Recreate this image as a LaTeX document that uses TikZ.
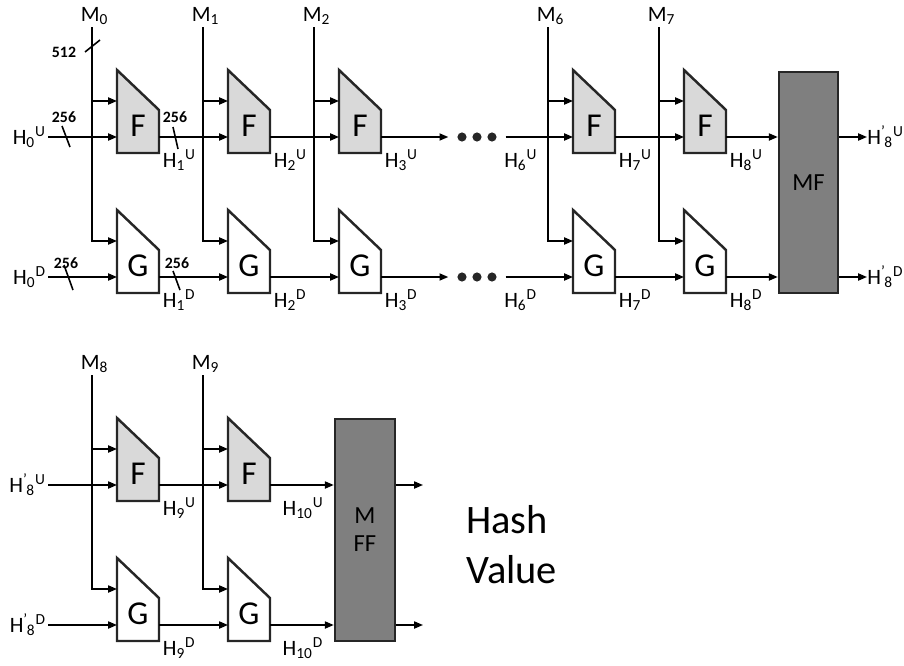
\documentclass[tikz,border=0pt]{standalone}
\usepackage{fontspec}
\setmainfont{Carlito}
\usetikzlibrary{arrows.meta,positioning}

\definecolor{fgray}{HTML}{D9D9D9}
\definecolor{mgray}{HTML}{7F7F7F}
\definecolor{edge}{HTML}{262626}

% H с индексами: H_i^U, H'_i^U
\newcommand{\hh}[2]{H\textsubscript{#1}\textsuperscript{#2}}
\newcommand{\hpr}[2]{H\textsuperscript{\textquoteright}\kern-0.06em\textsubscript{#1}\textsuperscript{#2}}
% блок-трапеция: имя, левый x, верхний y, заливка, буква
\newcommand{\blk}[5]{%
  \filldraw[blkline, fill=#4] (#2,#3) -- ++(42,40) -- ++(0,43) -- ++(-42,0) -- cycle;
  \node[blklbl] (#1) at (#2+21,#3+56) {#5};
  \coordinate (#1-m) at (#2,#3+31);
  \coordinate (#1-h) at (#2,#3+67);
  \coordinate (#1-o) at (#2+42,#3+67);
}

\begin{document}
\begin{tikzpicture}[x=0.02cm, y=-0.02cm,
		wire/.style={line width=0.9pt},
		arr/.style={wire, -{Triangle[length=5pt,width=4pt]}},
		blkline/.style={line width=1.4pt, draw=edge},
		blklbl/.style={font=\fontsize{19}{21}\selectfont, inner sep=0pt},
		mlbl/.style={font=\fontsize{12.5}{14}\selectfont, inner sep=1pt},
		hlbl/.style={font=\fontsize{12.5}{14}\selectfont, inner sep=1pt},
		wlbl/.style={font=\fontsize{9}{10}\selectfont\bfseries, inner sep=0pt},
		dot/.style={circle, fill=black!85, inner sep=0pt, minimum size=5.2pt},
		mfbox/.style={draw=edge, line width=1.4pt, fill=mgray, inner sep=0pt, align=center}]
		\useasboundingbox (0,0) rectangle (904,666);
		% верхняя цепочка
		\foreach \i/\x/\j in {0/92/1,1/203/2,2/314/3,6/548/7,7/659/8}{
			\blk{f\i}{\x+25}{70}{fgray}{F}
			\blk{g\i}{\x+25}{210}{white}{G}
			\coordinate (t\i) at (\x,27);
			\node[mlbl, above=0pt of t\i, xshift=1.5pt] (m\i) {M\textsubscript{\i}};
			\draw[arr] (t\i) |- (g\i-m);
			\draw[arr] (t\i |- f\i-m) -- (f\i-m);
			\node[hlbl, below right=6pt and 1pt of f\i-o] (hu\j) {\hh{\j}{U}};
			\node[hlbl, below right=6pt and 1pt of g\i-o] (hd\j) {\hh{\j}{D}};
		}
		\foreach \a/\b in {0/1,1/2,6/7}{
			\draw[arr] (f\a-o) -- (f\b-h);
			\draw[arr] (g\a-o) -- (g\b-h);
		}
		\foreach \k/\x in {1/462,2/477,3/492}{
			\node[dot] (du\k) at (\x,137) {};
			\node[dot] (dd\k) at (\x,277) {};
		}
		\draw[arr] (f2-o) -- ([xshift=-5pt]du1.west);
		\draw[arr] (g2-o) -- ([xshift=-5pt]dd1.west);
		\draw[arr] ([xshift=5pt]du3.east) -- (f6-h);
		\draw[arr] ([xshift=5pt]dd3.east) -- (g6-h);
		\node[hlbl, below right=6pt and 3pt of du3.east] (hu6) {\hh{6}{U}};
		\node[hlbl, below right=6pt and 3pt of dd3.east] (hd6) {\hh{6}{D}};
		\node[hlbl, anchor=east] (hu0) at (48,137) {\hh{0}{U}};
		\node[hlbl, anchor=east] (hd0) at (48,277) {\hh{0}{D}};
		\draw[arr] (hu0) -- (f0-h);
		\draw[arr] (hd0) -- (g0-h);
		% разрядности шин
		\draw[wire] (62,126) -- (70,147);
		\node[wlbl] (w1) at (64,117) {256};
		\draw[wire] (173,127) -- (178,149);
		\node[wlbl] (w2) at (175,117) {256};
		\draw[wire] (64,265) -- (73,290);
		\node[wlbl] (w3) at (66,263) {256};
		\draw[wire] (173,271) -- (180,290);
		\node[wlbl] (w4) at (177,263) {256};
		\draw[wire] (85,52) -- (100,40);
		\node[wlbl] (w5) at (64,52) {512};
		% MF
		\node[mfbox, minimum width=1.18cm, minimum height=4.42cm,
			font=\fontsize{14}{16}\selectfont] (mf) at (808.5,182.5) {MF};
		\draw[arr] (f7-o) -- (f7-o -| mf.west);
		\draw[arr] (g7-o) -- (g7-o -| mf.west);
		\node[hlbl, inner sep=0pt, anchor=west] (hup8) at (867,137) {\hpr{8}{U}};
		\node[hlbl, inner sep=0pt, anchor=west] (hdp8) at (867,277) {\hpr{8}{D}};
		\draw[arr] (mf.east |- hup8) -- (hup8.west);
		\draw[arr] (mf.east |- hdp8) -- (hdp8.west);
		% нижняя цепочка
		\foreach \i/\x/\j/\s in {8/92/9/1,9/203/10/6}{
			\blk{f\i}{\x+25}{418}{fgray}{F}
			\blk{g\i}{\x+25}{558}{white}{G}
			\coordinate (t\i) at (\x,375);
			\node[mlbl, above=0pt of t\i, xshift=1.5pt] (m\i) {M\textsubscript{\i}};
			\draw[arr] (t\i) |- (g\i-m);
			\draw[arr] (t\i |- f\i-m) -- (f\i-m);
			\node[hlbl, below right=6pt and \s pt of f\i-o] (hu\j) {\hh{\j}{U}};
			\node[hlbl, below right=6pt and \s pt of g\i-o] (hd\j) {\hh{\j}{D}};
		}
		\node[hlbl, anchor=east] (hin8u) at (48,485) {\hpr{8}{U}};
		\node[hlbl, anchor=east] (hin8d) at (48,625) {\hpr{8}{D}};
		\draw[arr] (hin8u) -- (f8-h);
		\draw[arr] (hin8d) -- (g8-h);
		\draw[arr] (f8-o) -- (f9-h);
		\draw[arr] (g8-o) -- (g9-h);
		\node[mfbox, minimum width=1.2cm, minimum height=4.44cm,
			font=\fontsize{14}{16}\selectfont] (mff) at (365,530) {M\\FF};
		\draw[arr] (f9-o) -- (f9-o -| mff.west);
		\draw[arr] (g9-o) -- (g9-o -| mff.west);
		\coordinate (qu) at (423,0 |- f9-o);
		\coordinate (qd) at (423,0 |- g9-o);
		\draw[arr] (mff.east |- qu) -- (qu);
		\draw[arr] (mff.east |- qd) -- (qd);
		\node[font=\fontsize{23}{28.5}\selectfont, align=left, anchor=west, inner sep=0pt] (hv) at (466,545) {Hash\\Value};
	\end{tikzpicture}
\end{document}
